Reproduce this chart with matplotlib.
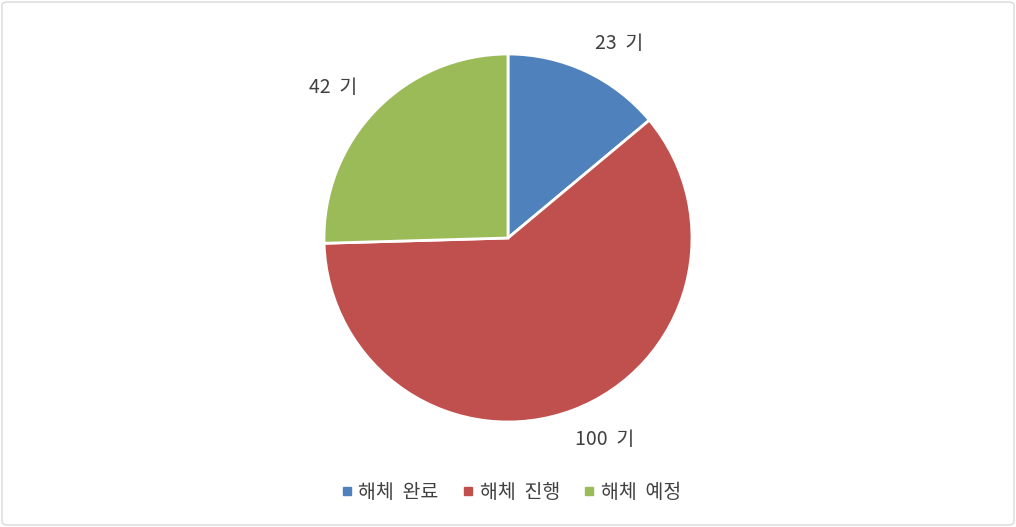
import numpy as np
import matplotlib
matplotlib.use("Agg")
import matplotlib.pyplot as plt
from matplotlib.patches import FancyBboxPatch
from matplotlib.lines import Line2D

plt.rcParams['font.family'] = ['Noto Sans CJK KR', 'DejaVu Sans']

categories = ['해체 완료', '해체 진행', '해체 예정']
values = [23, 100, 42]
value_labels = ['23  기', '100  기', '42  기']
colors = ['#4F81BD', '#C0504D', '#9BBB59']

W, H = 1016, 527
fig = plt.figure(figsize=(W / 100, H / 100), dpi=100)

# border
fig.patches.append(FancyBboxPatch((2 / W, 2 / H), 1 - 4 / W, 1 - 4 / H,
                                  boxstyle="round,pad=0,rounding_size=0.006",
                                  transform=fig.transFigure, facecolor='white',
                                  edgecolor='#D9D9D9', linewidth=1.0, zorder=-10))

cx, cy, r = 508, H - 238, 184
ax = fig.add_axes([(cx - r) / W, (cy - r) / H, 2 * r / W, 2 * r / H])
wedges, _ = ax.pie(values, colors=colors, startangle=90, counterclock=False,
                   radius=1.0, wedgeprops=dict(edgecolor='white', linewidth=2))
ax.set_xlim(-1, 1)
ax.set_ylim(-1, 1)
ax.set_aspect('equal')
ax.axis('off')

# value labels outside slices
for w, lab in zip(wedges, value_labels):
    ang = np.deg2rad((w.theta1 + w.theta2) / 2)
    ax.text(1.17 * np.cos(ang) + 0.11 * np.sign(np.cos(ang)), 1.17 * np.sin(ang), lab,
            ha='center', va='center', fontsize=14, color='#404040', clip_on=False)

handles = [Line2D([0], [0], marker='s', linestyle='none', markersize=6,
                  markerfacecolor=c, markeredgecolor=c) for c in colors]
fig.legend(handles, [c.replace(' ', '  ') for c in categories], loc='center',
           bbox_to_anchor=(0.5, 1 - 492 / H),
           ncol=3, frameon=False, fontsize=14, handletextpad=0.0, handlelength=1.2,
           columnspacing=0.9, labelcolor='#404040')

fig.savefig('out.png', dpi=100)
